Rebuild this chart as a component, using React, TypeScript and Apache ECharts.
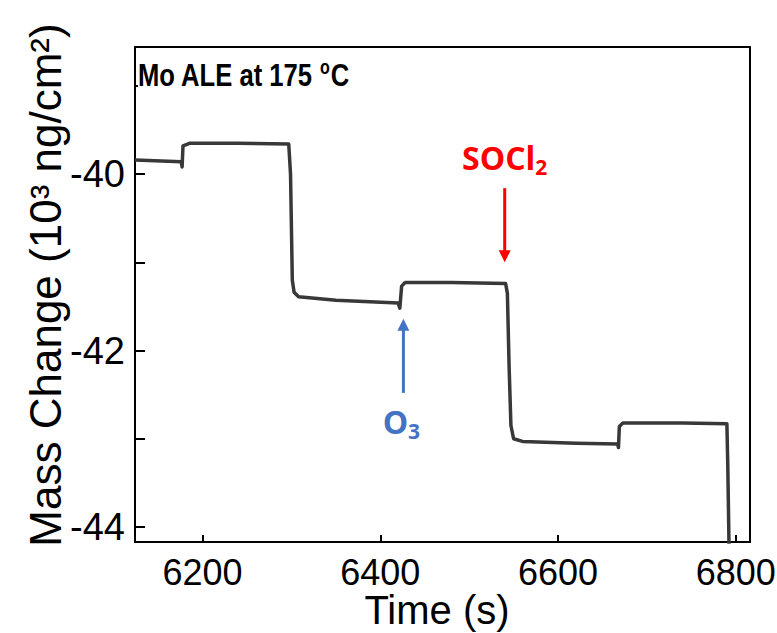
import React, { useEffect, useRef } from "react";
import * as echarts from "echarts";

// Time (s)
const times = [6124, 6176, 6177, 6178, 6186, 6240, 6297, 6299, 6301, 6303, 6308, 6350, 6420, 6422, 6424, 6428, 6480, 6541, 6543, 6545, 6547, 6550, 6560, 6620, 6667, 6668, 6669, 6673, 6740, 6790, 6791, 6793];
// Mass change (10^3 ng/cm^2)
const mass = [-39.84, -39.86, -39.92, -39.68, -39.65, -39.65, -39.66, -40.0, -41.2, -41.34, -41.39, -41.43, -41.46, -41.52, -41.27, -41.23, -41.23, -41.24, -41.35, -42.2, -42.85, -43.0, -43.03, -43.05, -43.06, -43.1, -42.86, -42.82, -42.82, -42.83, -43.3, -44.6];

const xTicks = [6200, 6400, 6600, 6800];
const yTicks = [-44, -43, -42, -41, -40, -39];
const yLabels = [-44, -42, -40];

const FONT = "'Liberation Sans', Arial, sans-serif";
const ANNOT_FONT = "'Open Sans', 'Liberation Sans', sans-serif";

export default function App() {
  const ref = useRef<HTMLDivElement>(null);
  useEffect(() => {
    const chart = echarts.init(ref.current!, null, { renderer: "svg" });
    chart.setOption({
      animation: false,
      backgroundColor: "#fff",
      grid: {
        left: 135,
        right: 27,
        top: 47,
        bottom: 91,
        outerBoundsMode: "none",
        containLabel: false,
        show: true,
        borderColor: "#000",
        borderWidth: 2,
        backgroundColor: "transparent",
      },
      xAxis: {
        type: "value",
        min: 6124,
        max: 6816,
        axisLine: { show: true, lineStyle: { color: "#000", width: 2 } },
        axisTick: { show: true, inside: true, length: 7, customValues: xTicks, lineStyle: { color: "#000", width: 2 } },
        axisLabel: {
          customValues: xTicks,
          fontSize: 36,
          color: "#000",
          fontFamily: FONT,
          margin: 12,
          formatter: (v: number) => String(v),
        },
        splitLine: { show: false },
      },
      yAxis: {
        type: "value",
        min: -44.17,
        max: -38.56,
        axisLine: { show: true, lineStyle: { color: "#000", width: 2 } },
        axisTick: { show: true, inside: true, length: 10, customValues: yTicks, lineStyle: { color: "#000", width: 2 } },
        axisLabel: {
          customValues: yLabels,
          fontSize: 38,
          color: "#000",
          fontFamily: FONT,
          margin: 10,
          formatter: (v: number) => String(v),
        },
        splitLine: { show: false },
      },
      series: [
        {
          type: "line",
          data: times.map((t, i) => [t, mass[i]]),
          showSymbol: false,
          clip: true,
          lineStyle: { color: "#383838", width: 3.5, join: "round" },
        },
      ],
    });

    const px = (t: number, v: number) => chart.convertToPixel({ gridIndex: 0 }, [t, v]) as number[];
    const socTop = px(6540, -40.16);
    const socTip = px(6540, -41.0);
    const o3Bot = px(6426, -42.48);
    const o3Tip = px(6426, -41.64);

    chart.setOption({
      graphic: [
        {
          type: "text",
          z: 100,
          x: 138,
          y: 75,
          scaleX: 0.8,
          style: {
            text: "{m|Mo ALE at 175 }{s|o}{m|C}",
            verticalAlign: "middle",
            align: "left",
            backgroundColor: "#fff",
            rich: {
              m: { fontSize: 32, fontWeight: "bold", fontFamily: FONT, fill: "#000", lineHeight: 36 },
              s: { fontSize: 20, fontWeight: "bold", fontFamily: FONT, fill: "#000", lineHeight: 36, verticalAlign: "top", padding: [0, 1, 0, 0] },
            },
          },
        },
        {
          type: "text",
          z: 100,
          x: 45,
          y: 285,
          rotation: Math.PI / 2,
          style: {
            text: "Mass Change (10³ ng/cm²)",
            align: "center",
            verticalAlign: "middle",
            fontSize: 44,
            fontFamily: FONT,
            fill: "#000",
          },
        },
        {
          type: "text",
          z: 100,
          x: 437,
          y: 610,
          style: {
            text: "Time (s)",
            align: "center",
            verticalAlign: "middle",
            fontSize: 40,
            fontFamily: FONT,
            fill: "#000",
          },
        },
        // SOCl2 arrow
        {
          type: "line",
          z: 100,
          shape: { x1: socTop[0], y1: socTop[1], x2: socTip[0], y2: socTip[1] - 10 },
          style: { stroke: "#ff0000", lineWidth: 3 },
        },
        {
          type: "polygon",
          z: 100,
          shape: { points: [[socTip[0] - 6, socTip[1] - 12], [socTip[0] + 6, socTip[1] - 12], [socTip[0], socTip[1]]] },
          style: { fill: "#ff0000" },
        },
        {
          type: "text",
          z: 100,
          x: socTop[0],
          y: socTop[1] - 31,
          style: {
            text: "{b|SOCl}{s|2}",
            align: "center",
            verticalAlign: "middle",
            rich: {
              b: { fontSize: 32, fontWeight: "bold", fontFamily: ANNOT_FONT, fill: "#ff0000", lineHeight: 40 },
              s: { fontSize: 21, fontWeight: "bold", fontFamily: ANNOT_FONT, fill: "#ff0000", lineHeight: 40, verticalAlign: "bottom" },
            },
          },
        },
        // O3 arrow
        {
          type: "line",
          z: 100,
          shape: { x1: o3Bot[0], y1: o3Bot[1], x2: o3Tip[0], y2: o3Tip[1] + 10 },
          style: { stroke: "#4472c4", lineWidth: 3 },
        },
        {
          type: "polygon",
          z: 100,
          shape: { points: [[o3Tip[0] - 6, o3Tip[1] + 12], [o3Tip[0] + 6, o3Tip[1] + 12], [o3Tip[0], o3Tip[1]]] },
          style: { fill: "#4472c4" },
        },
        {
          type: "text",
          z: 100,
          x: o3Bot[0] - 2,
          y: o3Bot[1] + 29,
          style: {
            text: "{b|O}{s|3}",
            align: "center",
            verticalAlign: "middle",
            rich: {
              b: { fontSize: 32, fontWeight: "bold", fontFamily: ANNOT_FONT, fill: "#4472c4", lineHeight: 40 },
              s: { fontSize: 21, fontWeight: "bold", fontFamily: ANNOT_FONT, fill: "#4472c4", lineHeight: 40, verticalAlign: "bottom" },
            },
          },
        },
      ],
    });
    return () => chart.dispose();
  }, []);
  return <div ref={ref} style={{ position: "fixed", left: 0, top: 0, width: 777, height: 633 }} />;
}
